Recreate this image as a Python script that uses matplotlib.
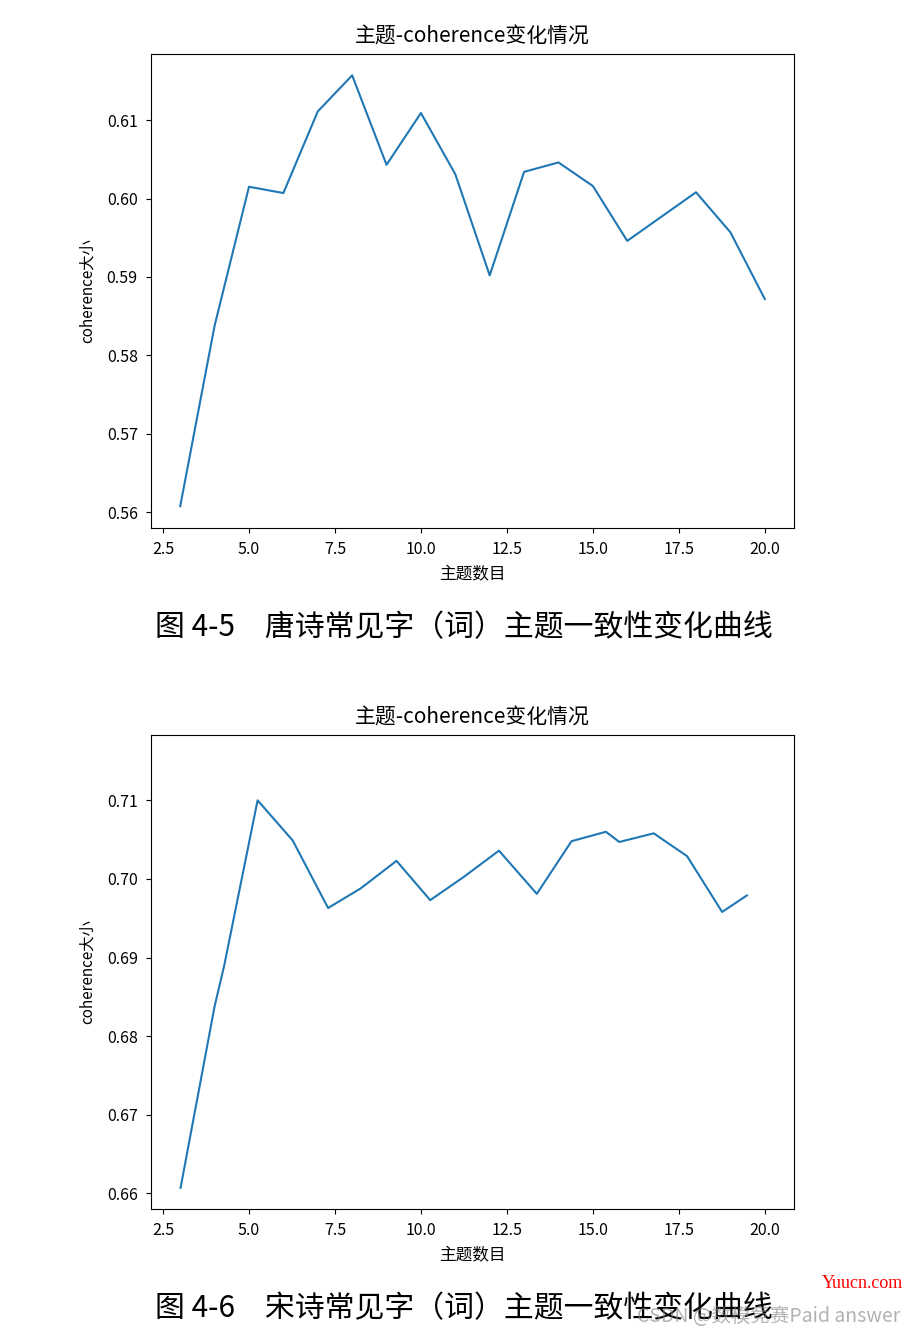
import matplotlib
matplotlib.use("Agg")
import matplotlib.pyplot as plt

plt.rcParams['font.family'] = ['Noto Sans CJK SC', 'DejaVu Sans']
plt.rcParams['axes.unicode_minus'] = False

# Tang poems: coherence vs number of topics
tang_topics = [3, 4, 5, 6, 7, 8, 9, 10, 11, 12, 13, 14, 15, 16, 17, 18, 19, 20]
tang_coherence = [0.5608, 0.5838, 0.6015, 0.6007, 0.6111, 0.6157, 0.6043, 0.6109, 0.6031,
                  0.5902, 0.6034, 0.6046, 0.6016, 0.5946, 0.5977, 0.6008, 0.5957, 0.5872]

# Song poems (x not on integers)
song_topics = [3.01, 4.0, 4.28, 5.25, 6.27, 7.30, 8.25, 9.29, 10.27, 11.26, 12.27,
               13.37, 14.38, 15.38, 15.77, 16.77, 17.74, 18.76, 19.48]
song_coherence = [0.6607, 0.6838, 0.6890, 0.7100, 0.7049, 0.6963, 0.6988, 0.7023, 0.6973,
                  0.7003, 0.7036, 0.6981, 0.7048, 0.7060, 0.7047, 0.7058, 0.7029, 0.6958, 0.6979]

xticks = [2.5, 5.0, 7.5, 10.0, 12.5, 15.0, 17.5, 20.0]
tang_yticks = [0.56, 0.57, 0.58, 0.59, 0.60, 0.61]
song_yticks = [0.66, 0.67, 0.68, 0.69, 0.70, 0.71]

captions = ["图 4-5　唐诗常见字（词）主题一致性变化曲线",
            "图 4-6　宋诗常见字（词）主题一致性变化曲线"]

fig = plt.figure(figsize=(9.16, 13.37), dpi=100)
ax1 = fig.add_axes([151 / 916, 1 - 528 / 1337, 643 / 916, 474 / 1337])
ax2 = fig.add_axes([151 / 916, 1 - 1209 / 1337, 643 / 916, 474 / 1337])

panels = [
    (ax1, tang_topics, tang_coherence, tang_yticks, (0.55801, 0.61842)),
    (ax2, song_topics, song_coherence, song_yticks, (0.65801, 0.71831)),
]
for ax, xs, ys, yt, ylim in panels:
    ax.plot(xs, ys, color='#1f77b4', linewidth=1.5)
    ax.set_xlim(2.15, 20.85)
    ax.set_ylim(*ylim)
    ax.set_xticks(xticks)
    ax.set_xticklabels([f"{t:.1f}" for t in xticks])
    ax.set_yticks(yt)
    ax.set_yticklabels([f"{t:.2f}" for t in yt])
    ax.tick_params(labelsize=11.5, pad=6)
    ax.set_title("主题-coherence变化情况", fontsize=15, pad=8)
    ax.set_xlabel("主题数目", fontsize=12, labelpad=5)
    ax.set_ylabel("coherence大小", fontsize=11, labelpad=8)

fig.text(155 / 916, 1 - 628 / 1337, captions[0], fontsize=21.5, ha='left', va='center')
fig.text(155 / 916, 1 - 1309 / 1337, captions[1], fontsize=21.5, ha='left', va='center')

# watermarks
fig.text(903 / 916, 1 - 1283 / 1337, "Yuucn.com", fontsize=13, color='red',
         family='Liberation Serif', ha='right', va='center')
fig.text(900 / 916, 1 - 1317 / 1337, "CSDN @数模竞赛Paid answer", fontsize=14,
         color='gray', alpha=0.6, ha='right', va='center')

fig.savefig("out.png", dpi=100)
